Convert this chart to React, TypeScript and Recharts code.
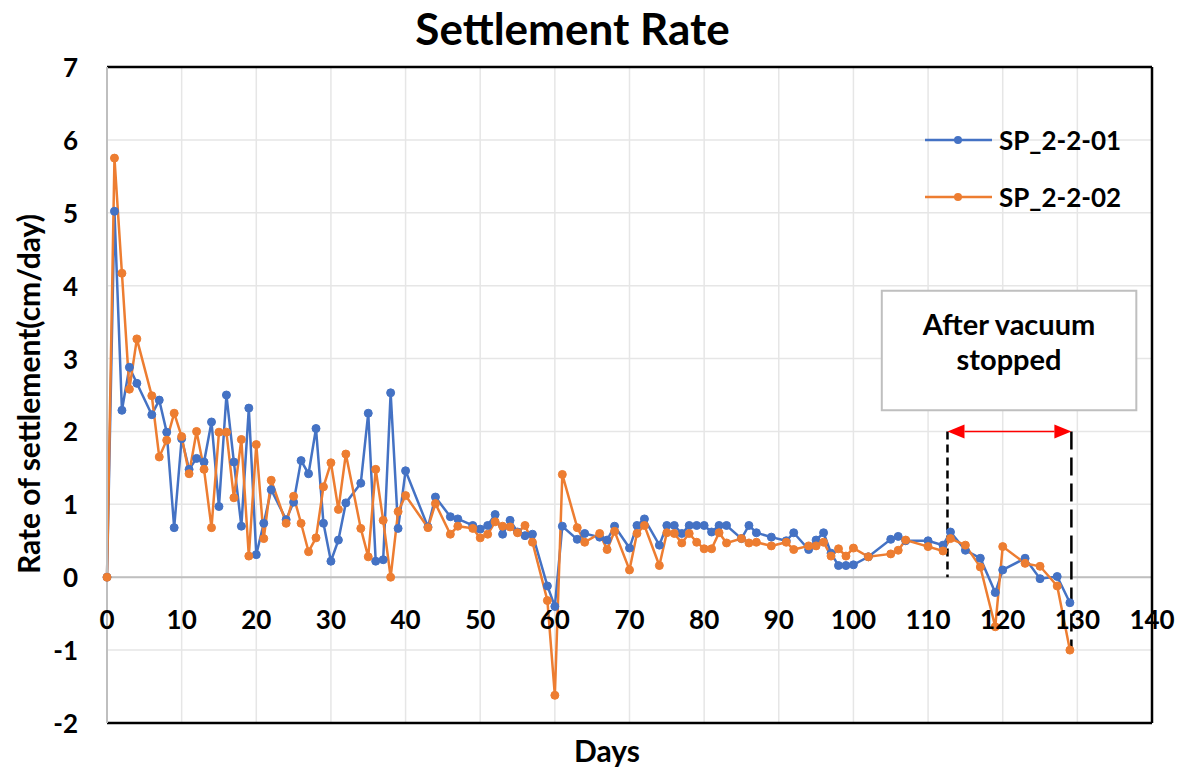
import React from 'react';
import { LineChart, Line, XAxis, YAxis, CartesianGrid, ReferenceLine, ReferenceArea } from 'recharts';

// days since start of monitoring
const days = [
  0, 1, 2, 3, 4, 6, 7, 8, 9, 10,
  11, 12, 13, 14, 15, 16, 17, 18, 19, 20, 21, 22,
  24, 25, 26, 27, 28, 29, 30, 31, 32,
  34, 35, 36, 37, 38, 39, 40,
  43, 44, 46, 47, 49, 50, 51, 52, 53, 54, 55, 56, 57,
  59, 60, 61, 63, 64, 66, 67, 68,
  70, 71, 72, 74, 75, 76, 77, 78, 79, 80, 81, 82, 83,
  85, 86, 87, 89, 91, 92, 94, 95, 96, 97, 98, 99, 100,
  102, 105, 106, 107, 110, 112, 113, 115, 117, 119, 120, 123, 125, 127.3, 129,
];

// settlement rate, cm/day
const sp01 = [
  0, 5.02, 2.29, 2.88, 2.66, 2.23, 2.43, 1.99, 0.68, 1.9,
  1.48, 1.63, 1.58, 2.13, 0.97, 2.5, 1.58, 0.7, 2.32, 0.31, 0.74, 1.2,
  0.79, 1.03, 1.6, 1.42, 2.04, 0.74, 0.22, 0.51, 1.02,
  1.29, 2.25, 0.22, 0.24, 2.53, 0.67, 1.46,
  0.69, 1.1, 0.83, 0.8, 0.71, 0.66, 0.71, 0.86, 0.59, 0.78, 0.62, 0.57, 0.59,
  -0.12, -0.4, 0.7, 0.52, 0.6, 0.55, 0.51, 0.7,
  0.4, 0.71, 0.8, 0.44, 0.71, 0.71, 0.6, 0.71, 0.71, 0.71, 0.62, 0.71, 0.71,
  0.53, 0.71, 0.61, 0.55, 0.5, 0.61, 0.38, 0.51, 0.61, 0.33, 0.16, 0.16, 0.17,
  0.28, 0.52, 0.56, 0.5, 0.5, 0.44, 0.62, 0.37, 0.26, -0.21, 0.1, 0.26, -0.02, 0.01, -0.35,
];

const sp02 = [
  0, 5.75, 4.17, 2.58, 3.27, 2.49, 1.65, 1.88, 2.25, 1.93,
  1.42, 2.0, 1.48, 0.68, 1.99, 1.99, 1.09, 1.89, 0.29, 1.82, 0.53, 1.33,
  0.74, 1.11, 0.74, 0.35, 0.54, 1.24, 1.57, 0.93, 1.69,
  0.67, 0.28, 1.48, 0.78, 0, 0.9, 1.12,
  0.68, 1.01, 0.59, 0.7, 0.67, 0.54, 0.59, 0.76, 0.7, 0.69, 0.61, 0.71, 0.48,
  -0.32, -1.62, 1.41, 0.68, 0.48, 0.6, 0.38, 0.63,
  0.1, 0.6, 0.71, 0.16, 0.61, 0.6, 0.47, 0.6, 0.48, 0.39, 0.39, 0.61, 0.47,
  0.53, 0.47, 0.48, 0.43, 0.48, 0.38, 0.43, 0.43, 0.48, 0.29, 0.39, 0.29, 0.4,
  0.28, 0.32, 0.37, 0.51, 0.42, 0.36, 0.53, 0.44, 0.14, -0.68, 0.42, 0.19, 0.15, -0.12, -1.0,
];

const xTicks = [0, 10, 20, 30, 40, 50, 60, 70, 80, 90, 100, 110, 120, 130, 140];
const yTicks = [-2, -1, 0, 1, 2, 3, 4, 5, 6, 7];

// vacuum switched off / end of record
const vacuumOff = 112.6;
const recordEnd = 129.2;

const BLUE = '#4472C4';
const ORANGE = '#ED7D31';
const FONT = 'Lato, "Noto Sans", sans-serif';

const W = 1185;
const H = 771;
const M = { top: 67, right: 33, bottom: 28, left: 47 };
const Y_AXIS_W = 60;
const X_AXIS_H = 20;
const PLOT_H = H - M.top - M.bottom - X_AXIS_H;
const Y_ZERO = M.top + (PLOT_H * 7) / 9;

const data = days.map((day, i) => ({ day, sp01: sp01[i], sp02: sp02[i] }));

// x labels sit under the zero line, not at the bottom of the plot
const DayTick = (props: any) => {
  const { x, payload } = props;
  return (
    <text x={x} y={Y_ZERO + 42} textAnchor="middle" dominantBaseline="central"
      fontFamily={FONT} fontWeight={700} fontSize={26} fill="#000">
      {payload.value}
    </text>
  );
};

const RateTick = (props: any) => {
  const { x, y, payload } = props;
  return (
    <text x={x} y={y} textAnchor="end" dominantBaseline="central"
      fontFamily={FONT} fontWeight={700} fontSize={26} fill="#000">
      {payload.value}
    </text>
  );
};

const DoubleArrow = (props: any) => {
  const { x1, y1, x2, y2 } = props;
  const head = 17;
  const half = 7;
  return (
    <g>
      <line x1={x1 + head} y1={y1} x2={x2 - head} y2={y2} stroke="#FF0000" strokeWidth={1.5} />
      <polygon points={`${x1},${y1} ${x1 + head},${y1 - half} ${x1 + head},${y1 + half}`} fill="#FF0000" />
      <polygon points={`${x2},${y2} ${x2 - head},${y2 - half} ${x2 - head},${y2 + half}`} fill="#FF0000" />
    </g>
  );
};

const NoteLabel = (props: any) => {
  const { x, y, width } = props.viewBox;
  const cx = x + width / 2;
  return (
    <text textAnchor="middle" fontFamily={FONT} fontWeight={700} fontSize={29} fill="#000">
      <tspan x={cx} y={y + 44}>After vacuum</tspan>
      <tspan x={cx} y={y + 79}>stopped</tspan>
    </text>
  );
};

const legendItems = [
  { name: 'SP_2-2-01', color: BLUE, top: 125 },
  { name: 'SP_2-2-02', color: ORANGE, top: 182 },
];

export default function App() {
  return (
    <div style={{ position: 'relative', width: W, height: H, background: '#fff', fontFamily: FONT }}>
      <style>{'body { margin: 0; }'}</style>
      <div style={{ position: 'absolute', top: 2, left: 0, width: W - 40, textAlign: 'center', fontSize: 44, fontWeight: 700 }}>
        Settlement Rate
      </div>
      <LineChart width={W} height={H} data={data} margin={M}>
        <CartesianGrid stroke="#E6E6E6" strokeWidth={1.5} />
        <XAxis dataKey="day" type="number" domain={[0, 140]} ticks={xTicks} height={X_AXIS_H}
          axisLine={false} tickLine={false} tick={<DayTick />} />
        <YAxis type="number" domain={[-2, 7]} ticks={yTicks} width={Y_AXIS_W}
          axisLine={{ stroke: '#BFBFBF', strokeWidth: 2 }} tickLine={false} tickSize={0} tickMargin={29}
          tick={<RateTick />} />
        <ReferenceLine y={0} stroke="#BFBFBF" strokeWidth={2} />
        <ReferenceLine y={7} stroke="#000" strokeWidth={2.5} />
        <ReferenceLine y={-2} stroke="#000" strokeWidth={2.5} />
        <ReferenceLine x={140} stroke="#000" strokeWidth={2.5} />
        <ReferenceArea x1={103.8} x2={137.9} y1={2.29} y2={3.93} fill="#fff" fillOpacity={1}
          stroke="#BFBFBF" strokeWidth={2} label={NoteLabel} />
        <ReferenceLine segment={[{ x: vacuumOff, y: 2 }, { x: vacuumOff, y: 0 }]}
          stroke="#000" strokeWidth={2.5} strokeDasharray="8 5" />
        <ReferenceLine segment={[{ x: recordEnd, y: 2 }, { x: recordEnd, y: -0.97 }]}
          stroke="#000" strokeWidth={2.5} strokeDasharray="18 8" />
        <ReferenceLine segment={[{ x: vacuumOff, y: 2 }, { x: recordEnd, y: 2 }]} shape={DoubleArrow} />
        <Line dataKey="sp01" name="SP_2-2-01" stroke={BLUE} strokeWidth={2.5}
          dot={{ r: 4, fill: BLUE, stroke: BLUE, strokeWidth: 1 }} isAnimationActive={false} />
        <Line dataKey="sp02" name="SP_2-2-02" stroke={ORANGE} strokeWidth={2.5}
          dot={{ r: 4, fill: ORANGE, stroke: ORANGE, strokeWidth: 1 }} isAnimationActive={false} />
      </LineChart>
      {legendItems.map((item) => (
        <div key={item.name} style={{ position: 'absolute', left: 925, top: item.top, height: 30, display: 'flex', alignItems: 'center' }}>
          <svg width={68} height={30}>
            <line x1={0} y1={15} x2={67} y2={15} stroke={item.color} strokeWidth={2.5} />
            <circle cx={33} cy={15} r={4} fill={item.color} />
          </svg>
          <span style={{ marginLeft: 6, fontSize: 26, fontWeight: 700 }}>{item.name}</span>
        </div>
      ))}
      <div style={{ position: 'absolute', left: 28, top: 394, transform: 'translate(-50%, -50%) rotate(-90deg)',
        whiteSpace: 'nowrap', fontSize: 30, fontWeight: 700 }}>
        Rate of settlement(cm/day)
      </div>
      <div style={{ position: 'absolute', left: 607, top: 750, transform: 'translate(-50%, -50%)', fontSize: 30, fontWeight: 700 }}>
        Days
      </div>
    </div>
  );
}
